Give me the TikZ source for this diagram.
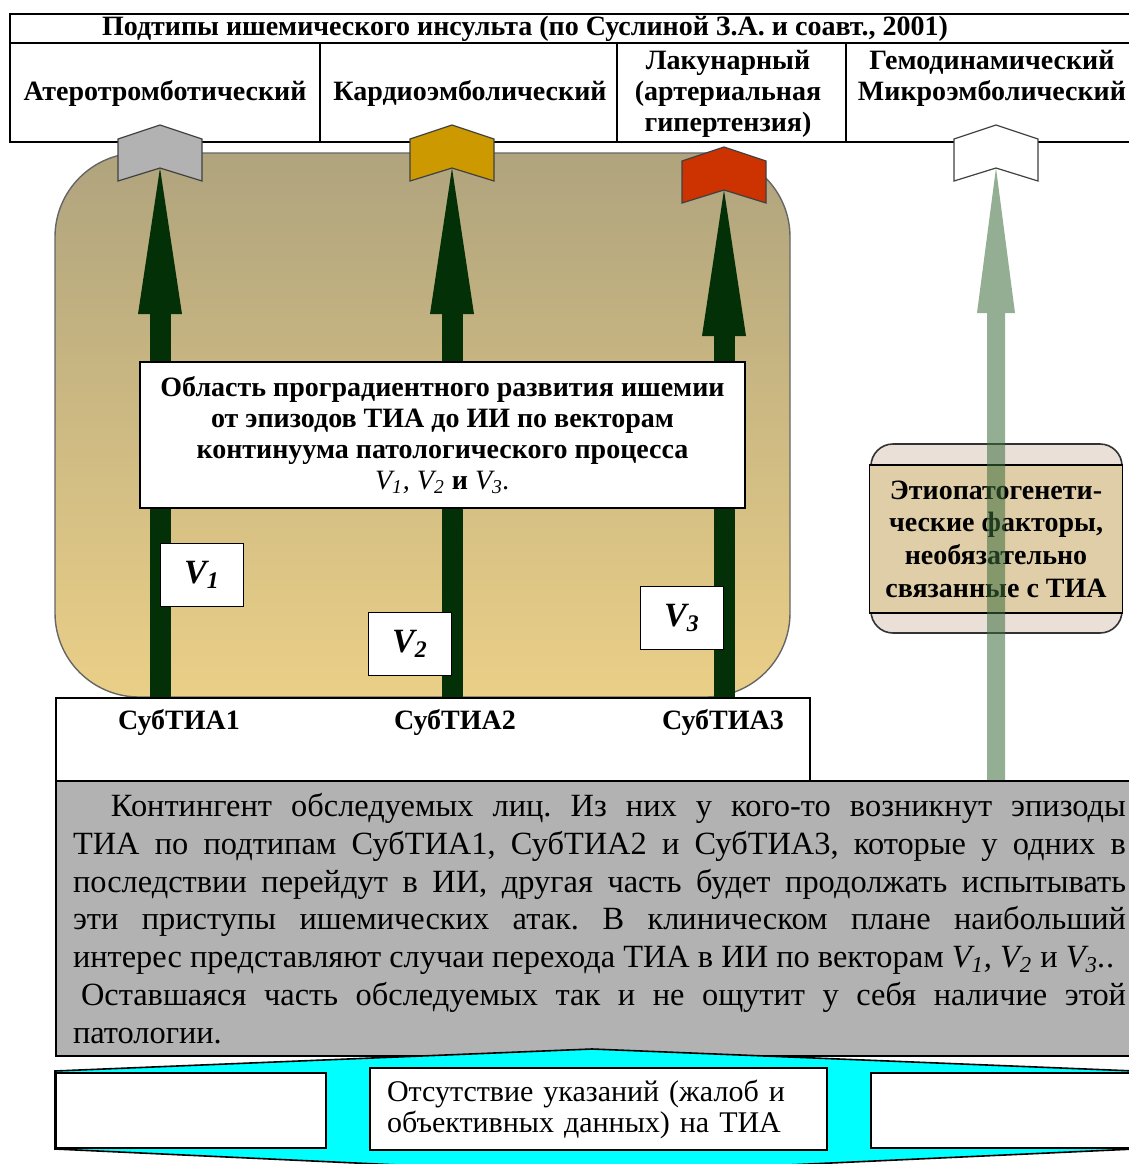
\documentclass[tikz,border=0pt]{standalone}
\usepackage{fontspec}
\setmainfont{Liberation Serif}
\usetikzlibrary{arrows.meta,positioning}
\definecolor{regtop}{RGB}{176,164,126}
\definecolor{regbot}{RGB}{234,207,135}
\definecolor{vecgreen}{RGB}{4,48,8}
\definecolor{palegreen}{RGB}{60,108,60}
\definecolor{chevgray}{RGB}{178,178,178}
\definecolor{chevgold}{RGB}{204,153,0}
\definecolor{chevred}{RGB}{204,51,0}
\definecolor{etioout}{RGB}{234,224,216}
\definecolor{etioin}{RGB}{224,206,168}
\definecolor{boxgray}{RGB}{178,178,178}
\definecolor{aqua}{RGB}{0,255,255}
\frenchspacing

\begin{document}
\begin{tikzpicture}
[x=0.5pt, y=-0.5pt, line width=0.9pt,
font=\fontsize{14}{15.5}\selectfont\bfseries,
cell/.style={draw, line width=1pt},
heading/.style={align=center, inner sep=0pt},
chevron/.style={draw=black!75, line width=0.6pt, line join=miter},
vector/.style={draw=vecgreen, line width=10.5pt, -{Triangle[length=73pt, width=22pt, line width=0pt]}},
palevector/.style={draw=palegreen, line width=9pt, -{Triangle[length=72.5pt, width=19pt, line width=0pt]}},
vbox/.style={rectangle, draw, fill=white, line width=0.8pt, minimum width=41.5pt, minimum height=31.5pt, inner sep=0pt, font=\fontsize{17}{17}\selectfont\bfseries\itshape},
note/.style={rectangle, draw, fill=white, line width=0.8pt, align=center},
pad/.style={rectangle, draw, fill=white, line width=0.8pt, anchor=north west, inner sep=0pt}]

\path[use as bounding box, clip] (0,0) rectangle (1129,1164);

% table of subtypes
\draw[cell] (10,14) rectangle (1140,142);
\draw[cell] (10,43) -- (1140,43);
\foreach \x in {320,617,846}
  \draw[cell] (\x,43) -- (\x,142);
\node[heading] (title) at (525,29) {Подтипы ишемического инсульта (по Суслиной З.А. и соавт., 2001)};
\node[heading] (athero) at (165,93) {Атеротромботический};
\node[heading] (cardio) at (470,93) {Кардиоэмболический};
\node[heading] (lacuna) at (728,94) {Лакунарный\\(артериальная\\гипертензия)};
\node[heading] (hemo) at (992,78) {Гемодинамический\\Микроэмболический};

% region of progression
\shade[top color=regtop, bottom color=regbot, draw=black!60, line width=0.7pt, rounded corners=42pt] (55,153) rectangle (790,697);

\node[pad, minimum width=377pt, minimum height=41.5pt] (subbox) at (55,697) {};
\node (sub1) at (179,722) {СубТИА1};
\node (sub2) at (455,722) {СубТИА2};
\node (sub3) at (723,722) {СубТИА3};

\foreach \x/\y [count=\i] in {160/125, 452/125, 724/147, 996/125}
  \coordinate (notch\i) at (\x,\y+43);

\foreach \i in {1,2,3}
  \draw[vector] (notch\i |- subbox.north) -- (notch\i);

\node[note, minimum width=302.5pt, minimum height=73pt] (area) at (442.5,435)
  {Область проградиентного развития ишемии\\от эпизодов ТИА до ИИ по векторам\\континуума патологического процесса\\{\mdseries\itshape V\textsubscript{1}, V\textsubscript{2}} и {\mdseries\itshape V\textsubscript{3}.}};

\node[vbox] (v1) at (202,575) {V\textsubscript{1}};
\node[vbox] (v2) at (410,644) {V\textsubscript{2}};
\node[vbox] (v3) at (682,618) {V\textsubscript{3}};

% contingent
\node[rectangle, draw, fill=boxgray, line width=1pt, anchor=north west, text width=526.5pt, inner xsep=8.5pt, minimum height=137.5pt, align=justify, font=\fontsize{16.2}{18.9}\selectfont\mdseries] (contingent) at (55,780)
  {\hspace*{19pt}Контингент обследуемых лиц. Из них у кого-то возникнут эпизоды\linebreak
  ТИА по подтипам СубТИА1, СубТИА2 и СубТИА3, которые у одних в\linebreak
  последствии перейдут в ИИ, другая часть будет продолжать испытывать\linebreak
  эти приступы ишемических атак. В клиническом плане наибольший\linebreak
  интерес представляют случаи перехода ТИА в ИИ по векторам {\itshape V\textsubscript{1}, V\textsubscript{2}} и {\itshape V\textsubscript{3}.}.\par
  \hspace*{4pt}Оставшаяся часть обследуемых так и не ощутит у себя наличие этой\linebreak
  патологии.};

% etiopathogenetic factors
\draw[fill=etioout, draw=black!80, line width=0.8pt, rounded corners=11pt] (871,444) rectangle (1122,633);
\node[rectangle, draw, fill=etioin, line width=0.8pt, minimum width=126.5pt, minimum height=74pt, align=center, font=\fontsize{14}{16.3}\selectfont\bfseries] (etio) at (996,539)
  {Этиопатогенети-\\ческие факторы,\\необязательно\\связанные с ТИА};

\begin{scope}[transparency group, opacity=0.55]
\draw[palevector] (notch4 |- contingent.north) -- (notch4);
\end{scope}

\foreach \x/\y/\c in {160/125/chevgray, 452/125/chevgold, 724/147/chevred, 996/125/white}
  \draw[chevron, fill=\c] (\x-42,\y+14) -- (\x,\y) -- (\x+42,\y+14) -- (\x+42,\y+56) -- (\x,\y+43) -- (\x-42,\y+56) -- cycle;

% no complaints
\draw[fill=aqua, line width=0.8pt] (55,1071) -- (592,1049) -- (1135,1071) -- (1135,1149) -- (592,1174) -- (55,1149) -- cycle;
\node[pad, minimum width=135pt, minimum height=37.5pt] (padleft) at (55,1072) {};
\node[pad, minimum width=132.5pt, minimum height=37.5pt] (padright) at (870,1072) {};
\node[note, text width=211.5pt, inner xsep=8.5pt, minimum height=41pt, align=left, font=\fontsize{15}{15.5}\selectfont\mdseries] (absent) at (598.5,1109)
  {Отсутствие указаний (жалоб и\\объективных данных) на ТИА};
\end{tikzpicture}
\end{document}
